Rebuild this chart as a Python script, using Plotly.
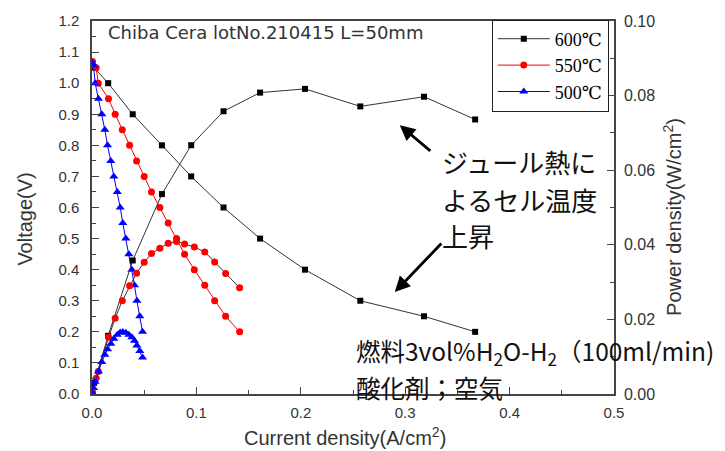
import plotly.graph_objects as go

# ---- data ----
x600 = [0.002, 0.0155, 0.039, 0.067, 0.095, 0.126, 0.161, 0.204, 0.257, 0.318, 0.367]
v600 = [1.05, 1.00, 0.90, 0.80, 0.70, 0.60, 0.50, 0.40, 0.30, 0.25, 0.20]
p600 = [0.003, 0.0156, 0.0358, 0.0536, 0.0667, 0.0758, 0.0808, 0.0818, 0.0771, 0.0797, 0.0736]

x550 = [0.0005, 0.004, 0.006, 0.0158, 0.0222, 0.029, 0.036, 0.0427, 0.050, 0.057,
        0.065, 0.073, 0.081, 0.0887, 0.098, 0.108, 0.1175, 0.128, 0.1414]
v550 = [1.07, 1.05, 1.00, 0.95, 0.90, 0.85, 0.80, 0.75, 0.70, 0.65,
        0.60, 0.55, 0.50, 0.45, 0.40, 0.35, 0.30, 0.25, 0.20]
p550 = [0.0005, 0.0042, 0.006, 0.0152, 0.0203, 0.025, 0.029, 0.0324, 0.0353, 0.0377,
        0.0391, 0.0404, 0.0409, 0.0402, 0.0394, 0.0381, 0.0354, 0.0323, 0.0285]

x500 = [0.0003, 0.0015, 0.003, 0.0062, 0.0094, 0.0123, 0.0149, 0.018, 0.0209, 0.0242,
        0.027, 0.0295, 0.0324, 0.0353, 0.0382, 0.0407, 0.043, 0.0458, 0.0484]
v500 = [1.065, 1.055, 1.00, 0.95, 0.90, 0.85, 0.80, 0.75, 0.70, 0.65,
        0.60, 0.55, 0.50, 0.45, 0.40, 0.35, 0.30, 0.25, 0.20]
p500 = [0.0003, 0.0016, 0.0033, 0.006, 0.0086, 0.0105, 0.012, 0.0135, 0.0148, 0.0159,
        0.0165, 0.0166, 0.0164, 0.0159, 0.0152, 0.0143, 0.013, 0.0115, 0.0098]

names = ["600℃", "550℃", "500℃"]

AX = "#444444"
TXT = "#333333"

fig = go.Figure()

def add(x, y, name, color, linecolor, symbol, size, yaxis, show):
    fig.add_trace(go.Scatter(
        x=x, y=y, name=name, mode="lines+markers", yaxis=yaxis,
        showlegend=show,
        line=dict(color=linecolor, width=1),
        marker=dict(color=color, symbol=symbol, size=size, line=dict(width=0)),
    ))

add(x600, v600, names[0], "black", "#333333", "square", 6, "y", True)
add(x550, v550, names[1], "red", "red", "circle", 7, "y", True)
add(x500, v500, names[2], "blue", "blue", "triangle-up", 8, "y", True)
add(x600, p600, names[0], "black", "#333333", "square", 6, "y2", False)
add(x550, p550, names[1], "red", "#333333", "circle", 7, "y2", False)
add(x500, p500, names[2], "blue", "blue", "triangle-up", 8, "y2", False)

tickfont = dict(family="Liberation Sans, Arial, sans-serif", size=15, color=TXT)

fig.update_layout(
    width=725, height=451,
    margin=dict(l=92, r=111, t=14, b=57),
    paper_bgcolor="white", plot_bgcolor="white",
    showlegend=True,
    legend=dict(
        x=0.99, y=1.004, xanchor="right", yanchor="top",
        bgcolor="white", bordercolor="#222222", borderwidth=1,
        font=dict(family="Liberation Serif, DejaVu Serif, serif", size=18, color="black"),
        tracegroupgap=0, itemwidth=52,
    ),
    xaxis=dict(
        range=[0, 0.5], dtick=0.1, tick0=0, tickformat=".1f",
        showgrid=False, zeroline=False,
        showline=True, linecolor=AX, linewidth=1.5, mirror=True,
        ticks="inside", ticklen=7, tickcolor=AX,
        minor=dict(ticks="inside", ticklen=4, dtick=0.05, tickcolor=AX),
        tickfont=tickfont, ticklabelstandoff=4,
    ),
    yaxis=dict(
        range=[0, 1.2], dtick=0.1, tick0=0, tickformat=".1f",
        showgrid=False, zeroline=False,
        showline=True, linecolor=AX, linewidth=1.5,
        ticks="inside", ticklen=7, tickcolor=AX,
        minor=dict(ticks="inside", ticklen=4, dtick=0.05, tickcolor=AX),
        tickfont=tickfont, ticklabelstandoff=8,
    ),
    yaxis2=dict(
        range=[0, 0.1], dtick=0.02, tick0=0, tickformat=".2f",
        overlaying="y", side="right",
        showgrid=False, zeroline=False,
        showline=True, linecolor=AX, linewidth=1.5,
        ticks="inside", ticklen=7, tickcolor=AX,
        minor=dict(ticks="inside", ticklen=4, dtick=0.01, tickcolor=AX),
        tickfont=dict(family="Liberation Sans, Arial, sans-serif", size=16, color=TXT),
        ticklabelstandoff=5,
    ),
)

ann = []
titlefont = dict(family="Liberation Sans, Arial, sans-serif", size=20, color=TXT)
ann.append(dict(text="Current density(A/cm<sup>2</sup>)", xref="paper", yref="paper",
                x=0.485, y=-0.113, xanchor="center", yanchor="middle",
                showarrow=False, font=titlefont))
ann.append(dict(text="Voltage(V)", xref="paper", yref="paper",
                x=-0.128, y=0.468, xanchor="center", yanchor="middle", textangle=-90,
                showarrow=False, font=titlefont))
ann.append(dict(text="Power density(W/cm<sup>2</sup>)", xref="paper", yref="paper",
                x=1.112, y=0.476, xanchor="center", yanchor="middle", textangle=-90,
                showarrow=False, font=titlefont))
ann.append(dict(text="Chiba Cera lotNo.210415 L=50mm", xref="x", yref="y",
                x=0.013, y=1.162, xanchor="left", yanchor="middle", showarrow=False,
                font=dict(family="DejaVu Sans, sans-serif", size=18, color=TXT)))

jp = dict(family="Noto Sans CJK JP, sans-serif", size=26, color="#111111")
for t, yy in zip(["ジュール熱に", "よるセル温度", "上昇"], [0.747, 0.626, 0.510]):
    ann.append(dict(text=t, xref="x", yref="y", x=0.333, y=yy,
                    xanchor="left", yanchor="middle", showarrow=False, font=jp))

jp2 = dict(family="Noto Sans CJK JP, sans-serif", size=24.5, color="#111111")
for t, yy in zip(["燃料3vol%H<sub>2</sub>O-H<sub>2</sub>（100ml/min)", "酸化剤；空気"], [0.1336, 0.02]):
    ann.append(dict(text=t, xref="x", yref="y", x=0.2505, y=yy,
                    xanchor="left", yanchor="middle", showarrow=False, font=jp2))

# arrows
ann.append(dict(text="", xref="x", yref="y", x=0.2948, y=0.865, ax=32, ay=27,
                showarrow=True, arrowhead=2, arrowsize=1.1, arrowwidth=2.8, arrowcolor="black"))
ann.append(dict(text="", xref="x", yref="y", x=0.290, y=0.328, ax=48, ay=-50,
                showarrow=True, arrowhead=2, arrowsize=1.1, arrowwidth=2.8, arrowcolor="black"))

fig.update_layout(annotations=ann)

fig.write_html("out.html")
